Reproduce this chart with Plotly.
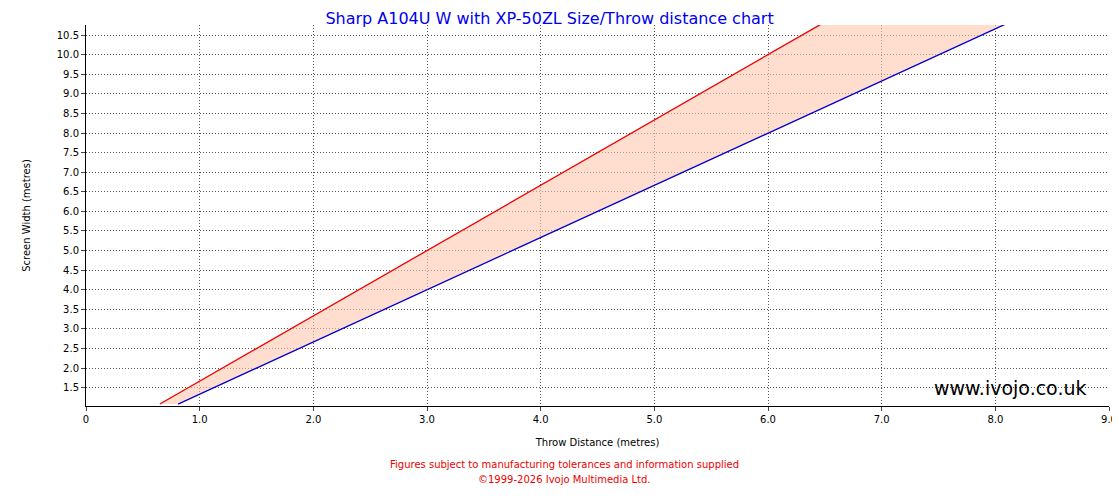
import plotly.graph_objects as go

min_throw = [0.65, 6.46]
min_width = [1.08, 10.77]
max_throw = [0.81, 8.08]
max_width = [1.08, 10.77]
x_ticks = [0, 1, 2, 3, 4, 5, 6, 7, 8, 9]
x_labels = ["0", "1.0", "2.0", "3.0", "4.0", "5.0", "6.0", "7.0", "8.0", "9.0"]
y_ticks = [1.5, 2, 2.5, 3, 3.5, 4, 4.5, 5, 5.5, 6, 6.5, 7, 7.5, 8, 8.5, 9, 9.5, 10, 10.5]

fig = go.Figure()
fig.add_trace(go.Scatter(x=min_throw + max_throw[::-1], y=min_width + max_width[::-1],
                         fill="toself", fillcolor="rgba(255,200,175,0.6)", line=dict(width=0),
                         mode="lines", hoverinfo="skip"))
fig.add_trace(go.Scatter(x=min_throw, y=min_width, mode="lines", line=dict(color="#ee0000", width=1.3)))
fig.add_trace(go.Scatter(x=max_throw, y=max_width, mode="lines", line=dict(color="#0000cc", width=1.3)))

axis_common = dict(showgrid=True, gridcolor="#555", griddash="1px,2px", gridwidth=1, automargin=False,
                   showline=True, linecolor="#000", ticks="outside", ticklen=4,
                   tickfont=dict(size=10, color="#000"), zeroline=False)
fig.update_xaxes(range=[0, 9], tickvals=x_ticks, ticktext=x_labels,
                 title=dict(text="Throw Distance (metres)", font=dict(size=10, color="#000"), standoff=14),
                 **axis_common)
fig.update_yaxes(range=[1.03, 10.76], tickvals=y_ticks, tickformat=".1f",
                 title=dict(text="Screen Width (metres)", font=dict(size=10, color="#000"), standoff=24),
                 **axis_common)

fig.update_layout(
    width=1112, height=484, showlegend=False,
    plot_bgcolor="white", paper_bgcolor="white",
    font=dict(family="DejaVu Sans", color="#000"),
    margin=dict(l=78, r=11, t=17, b=86, autoexpand=False),
    title=dict(text="Sharp A104U W with XP-50ZL Size/Throw distance chart", x=0.487, xanchor="center",
               y=0.99, yanchor="top", font=dict(size=16, color="#0000ee")),
)
fig.add_annotation(text="www.ivojo.co.uk", x=0.98, y=0.012, xref="paper", yref="paper", xanchor="right",
                   yanchor="bottom", showarrow=False, font=dict(size=19, color="#000"))
fig.add_annotation(text="Figures subject to manufacturing tolerances and information supplied", x=0.468, y=0,
                   xref="paper", yref="paper", yanchor="middle", yshift=-58, showarrow=False,
                   font=dict(size=10, color="#ee0000"))
fig.add_annotation(text="©1999-2026 Ivojo Multimedia Ltd.", x=0.468, y=0, xref="paper", yref="paper",
                   yanchor="middle", yshift=-73, showarrow=False, font=dict(size=10, color="#ee0000"))
fig.write_html("out.html")
